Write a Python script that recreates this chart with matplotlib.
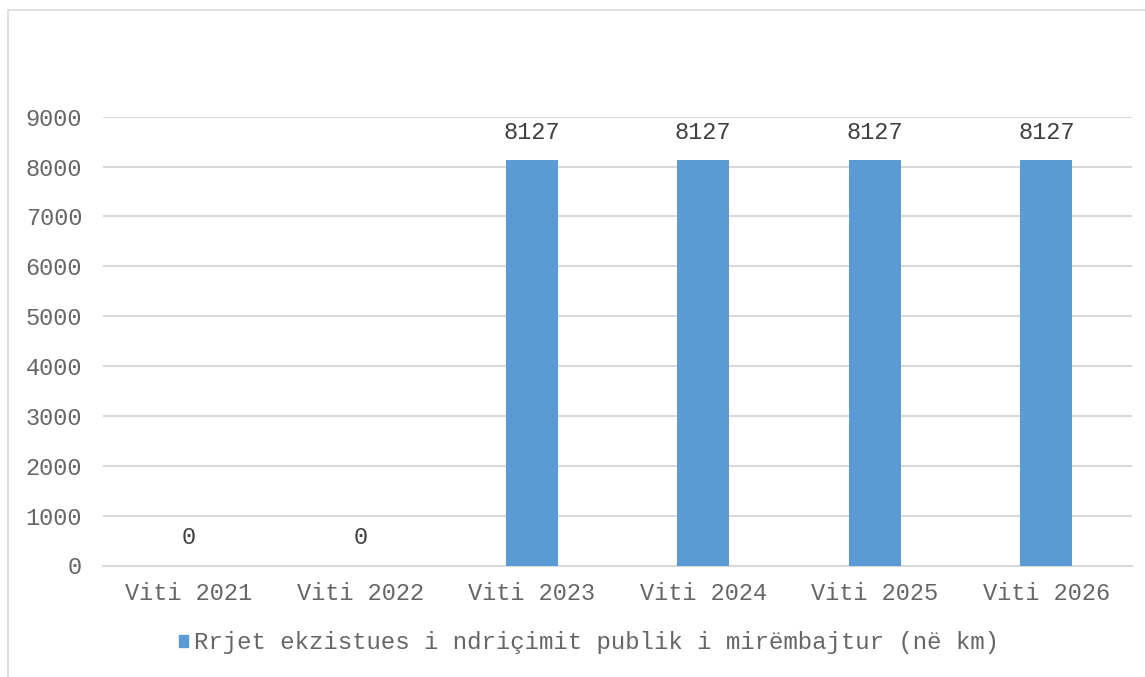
import matplotlib
matplotlib.use("Agg")
import matplotlib.pyplot as plt
from matplotlib.patches import Rectangle, Patch

categories = ["Viti 2021", "Viti 2022", "Viti 2023", "Viti 2024", "Viti 2025", "Viti 2026"]
values = [0, 0, 8127, 8127, 8127, 8127]
series_name = "Rrjet ekzistues i ndriçimit publik i mirëmbajtur (në km)"
yticks = [0, 1000, 2000, 3000, 4000, 5000, 6000, 7000, 8000, 9000]

FONT = ["Liberation Mono", "DejaVu Sans Mono"]
BAR = "#5b9bd5"
GRID = "#d9d9d9"
TXT = "#666666"
FS = 17

fig = plt.figure(figsize=(11.45, 6.77), dpi=100)
fig.patches.append(Rectangle((8 / 1145, -0.1), 1.2, 1 - 10 / 677 + 0.1, transform=fig.transFigure,
                             fill=False, edgecolor=GRID, linewidth=1.2))
ax = fig.add_axes([103 / 1145, 1 - 565.5 / 677, (1132 - 103) / 1145, (565.5 - 116.7) / 677])

x = list(range(len(categories)))
bars = ax.bar(x, values, width=0.303, color=BAR, zorder=3)
ax.set_xlim(-0.5, len(categories) - 0.5)
ax.set_ylim(0, 9000)
ax.set_yticks(yticks)
ax.set_yticklabels([str(v) for v in yticks], family=FONT, fontsize=FS, color=TXT)
ax.set_xticks(x)
ax.set_xticklabels(categories, family=FONT, fontsize=FS, color=TXT)
ax.tick_params(axis="both", length=0)
ax.tick_params(axis="y", pad=15)
ax.tick_params(axis="x", pad=12)
ax.grid(axis="y", color=GRID, linewidth=1.5, zorder=0)
for s in ["top", "right", "left"]:
    ax.spines[s].set_visible(False)
ax.spines["bottom"].set_color(GRID)
ax.spines["bottom"].set_linewidth(1.5)

for xi, v in zip(x, values):
    ax.annotate(str(v), (xi, v), xytext=(0, 20), textcoords="offset points",
                ha="center", va="center", family=FONT, fontsize=FS, color="#404040")

leg = fig.legend(handles=[Patch(color=BAR)], labels=[series_name], loc="center",
                 bbox_to_anchor=(589 / 1145, 1 - 643 / 677), frameon=False,
                 prop={"family": FONT, "size": 17.25}, handlelength=0.36, handleheight=0.36,
                 handletextpad=0.25)
for t in leg.get_texts():
    t.set_color(TXT)

fig.savefig("out.png", dpi=100)
